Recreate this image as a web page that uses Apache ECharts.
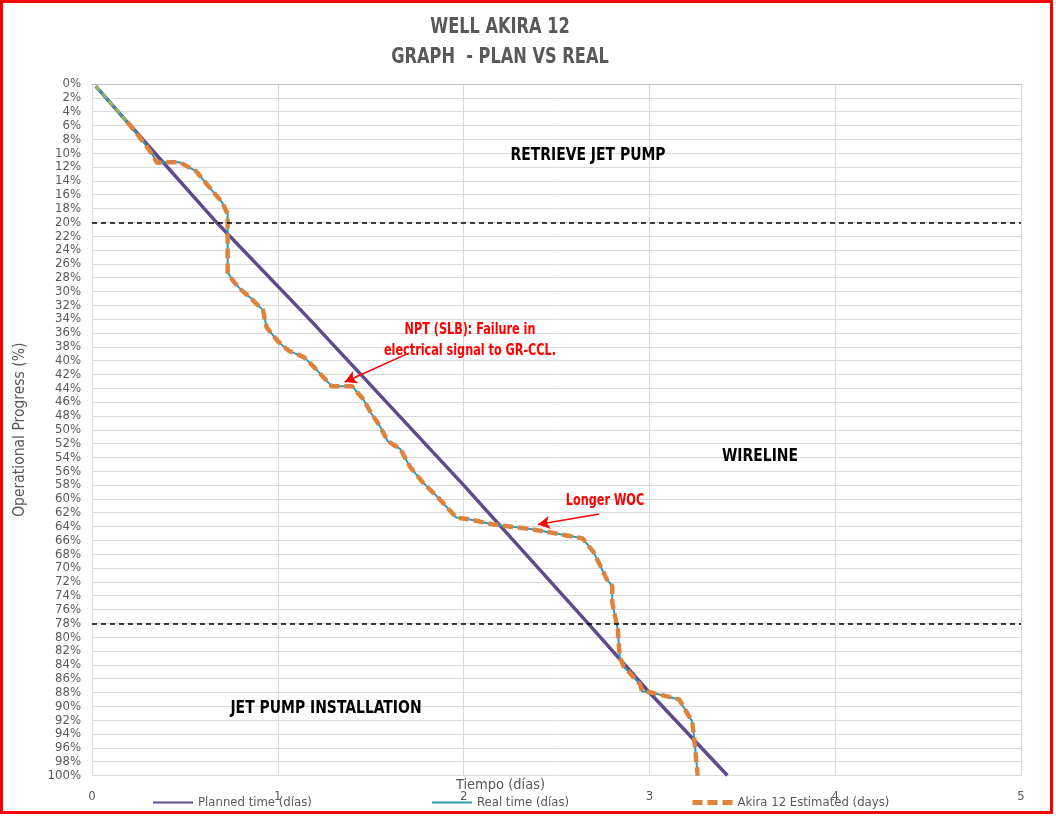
<!DOCTYPE html>
<html>
<head>
<meta charset="utf-8">
<script src="https://cdn.jsdelivr.net/npm/echarts@6/dist/echarts.min.js"></script>
<style>
html,body{margin:0;padding:0;background:#fff;}
#chart{width:1056px;height:816px;}
</style>
</head>
<body>
<div id="chart"></div>
<script>
// ---- data (day, operational progress %) ----
const yTicks = [0,2,4,6,8,10,12,14,16,18,20,22,24,26,28,30,32,34,36,38,40,42,44,46,48,50,52,54,56,58,60,62,64,66,68,70,72,74,76,78,80,82,84,86,88,90,92,94,96,98,100];
const xTicks = [0,1,2,3,4,5];
const plannedTime = [[0.02,0.3],[0.19,5.5],[0.67,20],[1.17,34],[2.0,58],[2.67,78],[3.0,88],[3.42,100]];
const realTime = [[0.02,0.3],[0.19,5.5],[0.23,6.8],[0.285,8.7],[0.33,10.4],[0.35,11.4],[0.40,11.3],[0.47,11.3],[0.56,12.6],[0.64,15.2],[0.70,17.1],[0.73,18.8],[0.73,20.5],[0.73,27.2],[0.76,28.5],[0.80,29.7],[0.86,31.1],[0.92,32.7],[0.94,35.2],[1.0,37.2],[1.06,38.6],[1.14,39.5],[1.19,40.8],[1.29,43.7],[1.40,43.7],[1.46,45.6],[1.50,47.5],[1.55,49.5],[1.59,51.6],[1.66,52.8],[1.71,55.3],[1.78,57.6],[1.87,60.0],[1.96,62.7],[2.02,62.9],[2.16,63.7],[2.37,64.4],[2.64,65.7],[2.70,67.7],[2.77,71.6],[2.80,72.6],[2.80,75.0],[2.83,78.9],[2.84,82.8],[2.86,84.2],[2.95,86.8],[2.96,87.8],[3.01,88.0],[3.16,89.0],[3.23,92.2],[3.24,94.3],[3.26,100]];
const estimatedTime = realTime.slice(1);
const startSegment = [[0.02,0.3],[0.19,5.5]];
const phaseLines = [20, 78];
const arrowNPT = [[1.69,39.1],[1.36,43.1]];
const arrowWOC = [[2.73,62.2],[2.40,63.7]];

const COND = '"DejaVu Sans Condensed","Liberation Sans Narrow",sans-serif';
const GRAY = '#595959';

function label(text, x, y, size, color, sy){
  return {type:'text', x:x, y:y, scaleY:sy, z:50,
    style:{text:text, fill:color, stroke:'none', lineWidth:0, font:'bold '+size+'px '+COND,
           textAlign:'center', textVerticalAlign:'middle'}};
}

const chart = echarts.init(document.getElementById('chart'), null, {renderer:'canvas'});
chart.setOption({
  backgroundColor:'#fff',
  animation:false,
  grid:{left:92, right:35, top:84, bottom:40.5, containLabel:false, outerBoundsMode:'none'},
  xAxis:{
    type:'value', min:0, max:5, interval:1,
    name:'Tiempo (días)', nameLocation:'middle', nameGap:2, nameMoveOverlap:false,
    nameTextStyle:{color:GRAY, fontSize:14.5, fontFamily:COND, verticalAlign:'top', padding:[0,112,0,0]},
    axisLine:{show:true, lineStyle:{color:'#bfbfbf', width:1}},
    axisTick:{show:false},
    axisLabel:{color:GRAY, fontSize:13, fontFamily:COND, margin:15},
    splitLine:{show:true, lineStyle:{color:'#d9d9d9', width:1}}
  },
  yAxis:{
    type:'value', inverse:true, min:0, max:100, interval:2,
    name:'Operational Progress (%)', nameLocation:'middle', nameGap:64, nameRotate:90, nameMoveOverlap:false,
    nameTextStyle:{color:GRAY, fontSize:15.5, fontFamily:COND},
    axisLine:{show:true, lineStyle:{color:'#d9d9d9', width:1}},
    axisTick:{show:false},
    axisLabel:{color:GRAY, fontSize:13, fontFamily:COND, margin:11, formatter:'{value}%'},
    splitLine:{show:true, lineStyle:{color:'#d9d9d9', width:1}}
  },
  legend:[
    {data:['Planned time (días)'], left:152, top:796, padding:0, itemWidth:40, itemHeight:12,
     itemStyle:{opacity:0}, textStyle:{color:GRAY, fontSize:13, fontFamily:COND}},
    {data:['Real time (días)'], left:431, top:796, padding:0, itemWidth:40, itemHeight:12,
     itemStyle:{opacity:0}, textStyle:{color:GRAY, fontSize:13, fontFamily:COND}},
    {data:['Akira 12 Estimated (days)'], left:690, top:796, padding:0, itemWidth:40, itemHeight:12,
     itemStyle:{opacity:0}, lineStyle:{width:5}, textStyle:{color:GRAY, fontSize:13, fontFamily:COND}}
  ],
  series:[
    {name:'Planned time (días)', type:'line', data:plannedTime, showSymbol:false, symbol:'none',
     lineStyle:{color:'#5F4A8E', width:3.5}, itemStyle:{color:'#5F4A8E'}, z:2},
    {name:'Real time (días)', type:'line', data:realTime, showSymbol:false, symbol:'none',
     lineStyle:{color:'#2E9CB8', width:2}, itemStyle:{color:'#2E9CB8'}, z:3},
    {name:'Akira 12 Estimated (days)', type:'line', data:estimatedTime, showSymbol:false, symbol:'none',
     lineStyle:{color:'#E0823A', width:4.5, type:[10,5]}, itemStyle:{color:'#E0823A'}, z:4},
    {name:'start', type:'line', data:startSegment, showSymbol:false, symbol:'none',
     lineStyle:{color:'#8DB85A', width:3, type:[6,4]}, z:4},
    {name:'marks', type:'line', data:[], z:5,
     markLine:{silent:true, symbol:['none','none'], label:{show:false},
       lineStyle:{color:'#000', width:1.5, type:[5,4]},
       data:phaseLines.map(v=>({yAxis:v}))}},
    {name:'arrows', type:'line', data:[], z:6,
     markLine:{silent:true, symbol:['none','arrow'], symbolSize:[10,12], label:{show:false},
       lineStyle:{color:'#FF0000', width:1.5, type:'solid'},
       data:[
         [{coord:arrowNPT[0]},{coord:arrowNPT[1]}],
         [{coord:arrowWOC[0]},{coord:arrowWOC[1]}]
       ]}}
  ],
  graphic:[
    {type:'rect', shape:{x:1.5,y:1.5,width:1050,height:811}, style:{fill:'none', stroke:'#FF0000', lineWidth:3}, z:100},
    label('WELL AKIRA 12', 500, 28, 18, GRAY, 1.15),
    label('GRAPH  - PLAN VS REAL', 500, 58, 18, GRAY, 1.15),
    label('RETRIEVE JET PUMP', 588, 155, 15.5, '#000', 1.15),
    label('WIRELINE', 760, 456, 15.5, '#000', 1.15),
    label('JET PUMP INSTALLATION', 326, 708, 15.5, '#000', 1.15),
    label('NPT (SLB): Failure in', 470, 330, 12.5, '#FF0000', 1.2),
    label('electrical signal to GR-CCL.', 470, 351, 12.5, '#FF0000', 1.2),
    label('Longer WOC', 605, 501, 12.5, '#FF0000', 1.2)
  ]
});
</script>
</body>
</html>
